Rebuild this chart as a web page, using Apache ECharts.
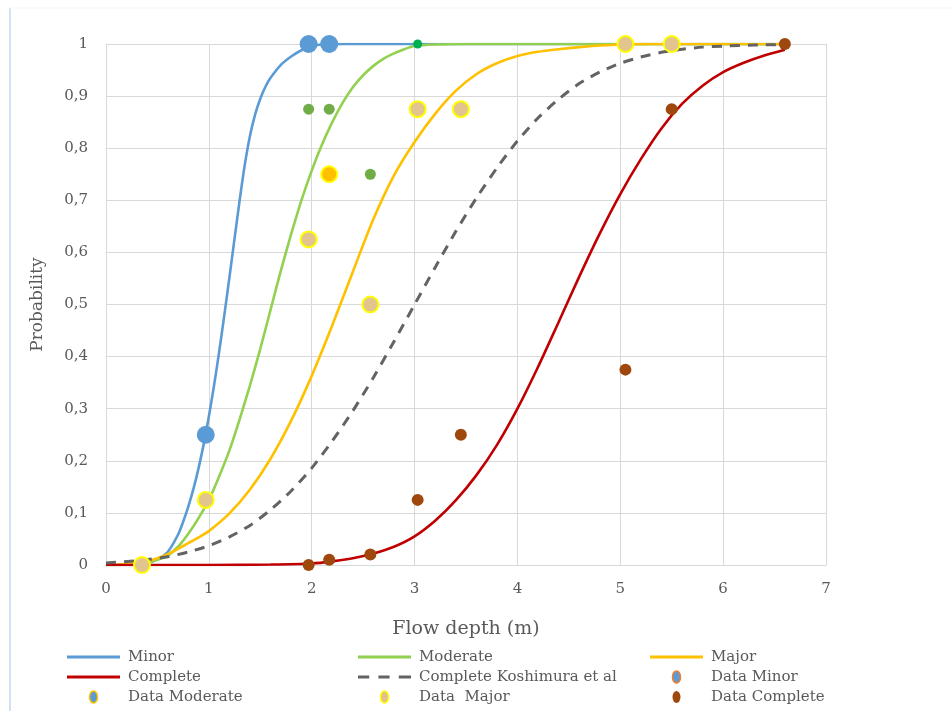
<!DOCTYPE html>
<html>
<head>
<meta charset="utf-8">
<script src="https://cdn.jsdelivr.net/npm/echarts@6/dist/echarts.min.js"></script>
<style>
html,body{margin:0;padding:0;background:#fff;}
#chart{width:952px;height:711px;}
</style>
</head>
<body>
<div id="chart"></div>
<script>
// ---- Data ----
const xAxisRange = [0, 7];
const yAxisRange = [0, 1];

// Fitted curves [flow depth, probability]
const minorCurve = [[0,0],[0.3,0.001],[0.4,0.004],[0.5,0.011],[0.6,0.025],[0.7,0.058],[0.75,0.083],[0.8,0.112],[0.85,0.146],[0.9,0.186],[0.95,0.232],[1.0,0.285],[1.05,0.344],[1.1,0.409],[1.15,0.479],[1.2,0.552],[1.25,0.627],[1.3,0.701],[1.35,0.769],[1.4,0.824],[1.45,0.865],[1.5,0.895],[1.55,0.918],[1.6,0.935],[1.7,0.96],[1.8,0.976],[1.9,0.988],[2.0,0.996],[2.1,0.999],[2.3,1],[3,1],[4,1],[5,1],[6.6,1]];
const moderateCurve = [[0,0],[0.2,0.001],[0.4,0.005],[0.5,0.01],[0.6,0.018],[0.7,0.035],[0.8,0.06],[0.9,0.09],[1.0,0.125],[1.1,0.17],[1.2,0.22],[1.3,0.28],[1.4,0.345],[1.5,0.415],[1.6,0.49],[1.7,0.565],[1.8,0.635],[1.9,0.70],[2.0,0.757],[2.1,0.807],[2.2,0.85],[2.3,0.887],[2.4,0.917],[2.5,0.94],[2.6,0.958],[2.7,0.972],[2.8,0.982],[2.9,0.99],[3.0,0.996],[3.2,0.999],[3.5,1],[4.5,1],[5.5,1],[6.6,1]];
const majorCurve = [[0,0],[0.2,0.002],[0.4,0.008],[0.5,0.013],[0.6,0.021],[0.7,0.031],[0.8,0.042],[0.9,0.053],[1.0,0.065],[1.2,0.099],[1.4,0.145],[1.6,0.204],[1.8,0.277],[2.0,0.363],[2.2,0.46],[2.4,0.563],[2.6,0.664],[2.8,0.748],[3.0,0.812],[3.2,0.866],[3.4,0.91],[3.6,0.942],[3.8,0.963],[4.0,0.977],[4.2,0.985],[4.4,0.99],[4.6,0.994],[4.8,0.997],[5.0,0.999],[5.3,1],[6.6,1]];
const completeCurve = [[0,0],[1.0,0],[1.6,0.001],[2.0,0.003],[2.2,0.007],[2.4,0.013],[2.6,0.022],[2.8,0.035],[3.0,0.055],[3.2,0.085],[3.4,0.124],[3.6,0.172],[3.8,0.23],[4.0,0.30],[4.2,0.38],[4.4,0.466],[4.6,0.553],[4.8,0.636],[5.0,0.712],[5.2,0.779],[5.4,0.838],[5.6,0.885],[5.8,0.92],[6.0,0.946],[6.2,0.964],[6.4,0.978],[6.6,0.989]];
const koshimuraCurve = [[0,0.004],[0.3,0.008],[0.6,0.016],[0.8,0.025],[1.0,0.037],[1.2,0.054],[1.4,0.076],[1.6,0.106],[1.8,0.142],[2.0,0.186],[2.2,0.238],[2.4,0.296],[2.6,0.36],[2.8,0.429],[3.0,0.5],[3.2,0.571],[3.4,0.64],[3.6,0.704],[3.8,0.762],[4.0,0.814],[4.2,0.858],[4.4,0.894],[4.6,0.924],[4.8,0.946],[5.0,0.963],[5.2,0.975],[5.4,0.984],[5.6,0.99],[5.8,0.994],[6.0,0.996],[6.3,0.998],[6.6,0.999]];

// Observed data points
const dataMinor = [[0.97,0.25],[1.97,1],[2.17,1]];
const dataModerate = [[1.97,0.875],[2.17,0.875],[2.57,0.75],[3.03,1]];
const dataMajor = [[0.35,0],[0.97,0.125],[1.97,0.625],[2.17,0.75],[2.57,0.5],[3.03,0.875],[3.45,0.875],[5.05,1],[5.5,1]];
const dataComplete = [[1.97,0],[2.17,0.01],[2.57,0.02],[3.03,0.125],[3.45,0.25],[5.05,0.375],[5.5,0.875],[6.6,1]];

// ---- Chart ----
const FONT = 'DejaVu Serif';
const TXT = '#595959';
const GRID = '#d9d9d9';
const ellipse = 'path://M4,0 A4,6 0 1,1 4,12 A4,6 0 1,1 4,0 Z';
const solidIcon = 'path://M0,0H52V3H0Z';
const dashIcon = 'path://M0,0H11V3H0Z M20,0H31V3H20Z M40,0H52V3H40Z';

function lineSeries(name, data, color, extra) {
  return Object.assign({
    name, type: 'line', data, symbol: 'none', smooth: 0.25,
    lineStyle: { color, width: 2.6 }, itemStyle: { color }, z: 2
  }, extra || {});
}

const chart = echarts.init(document.getElementById('chart'), null, { renderer: 'canvas' });
const legendCommon = {
  orient: 'vertical', top: 649, height: 70, padding: 0, itemGap: 4, itemWidth: 53, itemHeight: 12,
  textStyle: { fontFamily: FONT, fontSize: 15, color: TXT, lineHeight: 16, padding: [0, 0, 0, 3] },
  selectedMode: false
};
chart.setOption({
  animation: false,
  backgroundColor: '#fff',
  textStyle: { fontFamily: FONT },
  graphic: [
    { type: 'line', shape: { x1: 10, y1: 8, x2: 10, y2: 711 }, style: { stroke: '#c5d9ef', lineWidth: 1.5 } },
    { type: 'line', shape: { x1: 10, y1: 8, x2: 952, y2: 8 }, style: { stroke: '#f1f5fb', lineWidth: 1 } }
  ],
  grid: { left: 106, right: 126, top: 44, bottom: 146, containLabel: false },
  xAxis: {
    type: 'value', min: xAxisRange[0], max: xAxisRange[1], interval: 1,
    name: 'Flow depth (m)', nameLocation: 'middle', nameGap: 55,
    nameTextStyle: { fontFamily: FONT, fontSize: 19, color: TXT },
    axisLine: { show: true, lineStyle: { color: GRID, width: 1 } },
    axisTick: { show: false },
    axisLabel: { margin: 17, fontFamily: FONT, fontSize: 15, color: TXT },
    splitLine: { show: true, lineStyle: { color: GRID, width: 1 } }
  },
  yAxis: {
    type: 'value', min: yAxisRange[0], max: yAxisRange[1], interval: 0.1,
    name: 'Probability', nameLocation: 'middle', nameGap: 60,
    nameTextStyle: { fontFamily: FONT, fontSize: 17, color: TXT },
    axisLine: { show: true, lineStyle: { color: GRID, width: 1 } },
    axisTick: { show: false },
    axisLabel: {
      margin: 18, fontFamily: FONT, fontSize: 15, color: TXT,
      formatter: v => String(Math.round(v * 10) / 10).replace('.', ',')
    },
    splitLine: { show: true, lineStyle: { color: GRID, width: 1 } }
  },
  legend: [
    Object.assign({}, legendCommon, { left: 67, data: [
      { name: 'Minor', icon: solidIcon, itemStyle: { color: '#5b9bd5' } },
      { name: 'Complete', icon: solidIcon, itemStyle: { color: '#c00000' } },
      { name: 'Data Moderate', icon: ellipse, itemStyle: { color: '#5b9bd5', borderColor: '#ffc000', borderWidth: 1.5 } }
    ] }),
    Object.assign({}, legendCommon, { left: 358, data: [
      { name: 'Moderate', icon: solidIcon, itemStyle: { color: '#92d050' } },
      { name: 'Complete Koshimura et al', icon: dashIcon, itemStyle: { color: '#636363' } },
      { name: 'Data  Major', icon: ellipse, itemStyle: { color: '#e2c08e', borderColor: '#ffff00', borderWidth: 1.5 } }
    ] }),
    Object.assign({}, legendCommon, { left: 650, data: [
      { name: 'Major', icon: solidIcon, itemStyle: { color: '#ffc000' } },
      { name: 'Data Minor', icon: ellipse, itemStyle: { color: '#5b9bd5', borderColor: '#ed7d31', borderWidth: 1.5 } },
      { name: 'Data Complete', icon: ellipse, itemStyle: { color: '#9e480e', borderWidth: 0 } }
    ] })
  ],
  series: [
    lineSeries('Minor', minorCurve, '#5b9bd5'),
    lineSeries('Moderate', moderateCurve, '#92d050'),
    lineSeries('Major', majorCurve, '#ffc000'),
    lineSeries('Complete', completeCurve, '#c00000'),
    lineSeries('Complete Koshimura et al', koshimuraCurve, '#636363', {
      lineStyle: { color: '#636363', width: 3, type: [10, 8] }
    }),
    {
      name: 'Data Minor', type: 'scatter', data: dataMinor, symbolSize: 18, z: 5,
      itemStyle: { color: '#5b9bd5', opacity: 1 }
    },
    {
      name: 'Data Moderate', type: 'scatter', z: 5,
      data: dataModerate.map(p => p[0] === 3.03 ? { value: p, symbolSize: 9, itemStyle: { color: '#00b050' } } : p),
      symbolSize: 11, itemStyle: { color: '#70ad47', opacity: 1 }
    },
    {
      name: 'Data  Major', type: 'scatter', z: 5,
      data: dataMajor.map(p => (p[0] === 2.17 ? { value: p, itemStyle: { color: '#ffc000' } } : p)),
      symbolSize: 16, itemStyle: { color: '#e2c48f', borderColor: '#ffff00', borderWidth: 2, opacity: 1 }
    },
    {
      name: 'Data Complete', type: 'scatter', data: dataComplete, symbolSize: 12, z: 5,
      itemStyle: { color: '#9e480e', opacity: 1 }
    }
  ]
});
</script>
</body>
</html>
